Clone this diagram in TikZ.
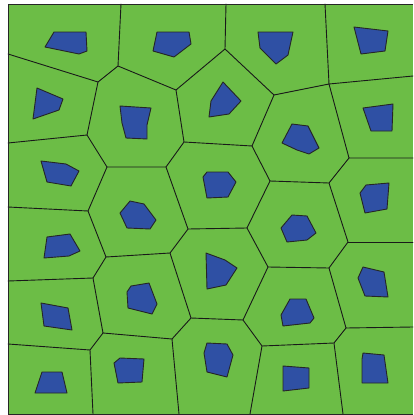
\documentclass[tikz,border=0pt]{standalone}
\usepackage{tikz}
\definecolor{cellgreen}{RGB}{108,189,70}
\definecolor{blobblue}{RGB}{47,80,164}
\tikzset{
  cellwall/.style={draw=black!90, line width=0.9pt, line cap=round},
  blob/.style={fill=blobblue, draw=black!85, line width=0.9pt, line join=round},
  frameline/.style={draw=black!85, line width=1pt},
}

\begin{document}
\begin{tikzpicture}[x=1pt, y=-1pt]
\useasboundingbox (0,0) rectangle (413,415);
\fill[cellgreen] (8,4) rectangle (413,414);
% voronoi vertices
\coordinate (A) at (118,66);  \coordinate (B) at (98,82);
\coordinate (C) at (176,90);  \coordinate (D) at (225,49);
\coordinate (E) at (184,142); \coordinate (F) at (87,135);
\coordinate (G) at (107,167); \coordinate (H) at (166,167);
\coordinate (I) at (274,95);  \coordinate (J) at (329,84);
\coordinate (K) at (252,146); \coordinate (L) at (349,158);
\coordinate (M) at (270,181); \coordinate (N) at (329,183);
\coordinate (O) at (88,211);  \coordinate (P) at (106,257);
\coordinate (Q) at (188,229); \coordinate (R) at (170,253);
\coordinate (S) at (93,278);  \coordinate (T) at (103,333);
\coordinate (U) at (191,318); \coordinate (V) at (172,339);
\coordinate (W) at (90,350);  \coordinate (X) at (247,228);
\coordinate (Y) at (268,267); \coordinate (Z) at (329,268);
\coordinate (AA) at (348,242); \coordinate (AB) at (243,320);
\coordinate (AC) at (346,328); \coordinate (AD) at (262,346);
\coordinate (AE) at (334,343);
% border ends
\coordinate (t1) at (121,4); \coordinate (t2) at (226,4); \coordinate (t3) at (325,4);
\coordinate (l1) at (8,54); \coordinate (l2) at (8,143); \coordinate (l3) at (8,207);
\coordinate (l4) at (8,281); \coordinate (l5) at (8,344);
\coordinate (r1) at (413,76); \coordinate (r2) at (413,158);
\coordinate (r3) at (413,242); \coordinate (r4) at (413,327);
\coordinate (b1) at (93,414); \coordinate (b2) at (179,414);
\coordinate (b3) at (250,414); \coordinate (b4) at (343,414);
% cell walls
\draw[cellwall] (t1) -- (A) -- (B) -- (l1);
\draw[cellwall] (A) -- (C) -- (D) -- (t2);
\draw[cellwall] (C) -- (E) -- (H) -- (G) -- (F) -- (B);
\draw[cellwall] (F) -- (l2);
\draw[cellwall] (E) -- (K) -- (I) -- (D);
\draw[cellwall] (I) -- (J) -- (t3);
\draw[cellwall] (J) -- (r1);
\draw[cellwall] (J) -- (L) -- (r2);
\draw[cellwall] (K) -- (M) -- (N) -- (L);
\draw[cellwall] (G) -- (O) -- (l3);
\draw[cellwall] (O) -- (P) -- (R) -- (Q) -- (H);
\draw[cellwall] (P) -- (S) -- (l4);
\draw[cellwall] (S) -- (T) -- (V) -- (U) -- (R);
\draw[cellwall] (T) -- (W) -- (l5);
\draw[cellwall] (W) -- (b1);
\draw[cellwall] (V) -- (b2);
\draw[cellwall] (M) -- (X) -- (Q);
\draw[cellwall] (X) -- (Y) -- (Z) -- (AA) -- (N);
\draw[cellwall] (AA) -- (r3);
\draw[cellwall] (Y) -- (AB) -- (U);
\draw[cellwall] (Z) -- (AC) -- (r4);
\draw[cellwall] (AB) -- (AD) -- (AE) -- (AC);
\draw[cellwall] (AD) -- (b3);
\draw[cellwall] (AE) -- (b4);
% blobs, row by row
\draw[blob] (54,32) -- (86,32) -- (87,51) -- (79,54) -- (45,47) -- cycle;
\draw[blob] (157,32) -- (189,32) -- (191,44) -- (174,57) -- (153,51) -- cycle;
\draw[blob] (258,32) -- (293,32) -- (288,55) -- (276,64) -- (260,48) -- cycle;
\draw[blob] (354,27) -- (388,31) -- (385,51) -- (361,54) -- cycle;
\draw[blob] (37,88) -- (63,99) -- (59,110) -- (33,119) -- cycle;
\draw[blob] (120,106) -- (151,108) -- (147,125) -- (147,139) -- (126,138) -- (122,123) -- cycle;
\draw[blob] (223,82) -- (241,101) -- (229,114) -- (209,117) -- (211,101) -- cycle;
\draw[blob] (292,124) -- (308,126) -- (319,148) -- (309,154) -- (297,150) -- (282,143) -- cycle;
\draw[blob] (363,108) -- (393,104) -- (392,131) -- (371,131) -- cycle;
\draw[blob] (41,161) -- (66,164) -- (79,171) -- (71,186) -- (47,182) -- cycle;
\draw[blob] (130,201) -- (144,204) -- (156,220) -- (150,229) -- (127,228) -- (120,213) -- cycle;
\draw[blob] (207,172) -- (228,172) -- (236,182) -- (228,197) -- (207,198) -- (203,177) -- cycle;
\draw[blob] (292,215) -- (307,216) -- (316,233) -- (307,240) -- (287,242) -- (281,228) -- cycle;
\draw[blob] (366,185) -- (389,183) -- (387,209) -- (365,213) -- (360,193) -- cycle;
\draw[blob] (47,237) -- (70,234) -- (80,251) -- (69,256) -- (44,258) -- cycle;
\draw[blob] (131,286) -- (149,283) -- (157,304) -- (152,314) -- (128,308) -- (127,292) -- cycle;
\draw[blob] (206,253) -- (225,260) -- (237,268) -- (226,285) -- (207,289) -- cycle;
\draw[blob] (290,299) -- (306,299) -- (314,318) -- (310,323) -- (283,326) -- (281,315) -- cycle;
\draw[blob] (363,267) -- (384,272) -- (388,297) -- (365,296) -- (358,278) -- cycle;
\draw[blob] (41,303) -- (68,308) -- (72,330) -- (44,326) -- cycle;
\draw[blob] (207,343) -- (227,344) -- (233,355) -- (227,377) -- (207,372) -- (204,353) -- cycle;
\draw[blob] (363,353) -- (384,355) -- (388,383) -- (362,383) -- (362,359) -- cycle;
\draw[blob] (42,372) -- (62,372) -- (67,393) -- (35,393) -- cycle;
\draw[blob] (120,358) -- (144,359) -- (142,382) -- (118,383) -- (114,363) -- cycle;
\draw[blob] (283,366) -- (309,368) -- (309,388) -- (283,391) -- cycle;
% frame
\draw[frameline] (413,4) -- (8,4) -- (8,414) -- (413,414);
\end{tikzpicture}
\end{document}
